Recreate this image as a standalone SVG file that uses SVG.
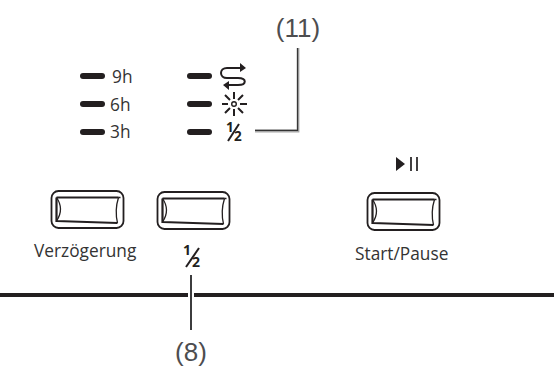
<svg xmlns="http://www.w3.org/2000/svg" width="554" height="367" viewBox="0 0 554 367">
<defs>
<style>
.t{font-family:"Open Sans","Noto Sans",sans-serif;font-size:17.300px;fill:#333}
.c{font-family:"Liberation Sans",Arial,sans-serif;font-size:26px;fill:#4d4d4f;text-anchor:middle}
.f{font-family:"Open Sans","Noto Sans",sans-serif;font-weight:700;fill:#231f20}
.led{stroke:#231f20;stroke-width:6;stroke-linecap:round;fill:none}
.o{fill:none;stroke:#231f20;stroke-width:1.800}
.b{fill:none;stroke:#231f20;stroke-width:2.200}
.i{fill:none;stroke:#231f20;stroke-width:1.300}
.s{fill:none;stroke:#231f20;stroke-width:2}
</style>
<g id="btn">
<rect class="o" x="0" y="0" width="72" height="37" rx="7"/>
<path class="b" d="M5 6.500H67M5 6.500V31M5 30L66 32"/>
<path class="i" d="M5 6.500Q13 18 5 30M67 6.500Q63 19 66 32M67 6.500L69 6.500"/>
</g>
</defs>
<g id="connectors">
<path d="M298 48V131H255" fill="none" stroke="#a8a8a8" stroke-width="2.800"/>
<path d="M297.600 48V130.400H255" fill="none" stroke="#333" stroke-width="1.100"/>
<line x1="191" y1="275" x2="191" y2="330" stroke="#3c3c3e" stroke-width="2"/>
</g>
<path id="baseline" d="M0 295H188M194 295H554" stroke="#231f20" stroke-width="4" fill="none"/>
<g id="led-9h"><line class="led" x1="83" y1="76" x2="102" y2="76"/><text class="t" x="112" y="83">9h</text></g>
<g id="led-6h"><line class="led" x1="83" y1="104" x2="102" y2="104"/><text class="t" x="110" y="111">6h</text></g>
<g id="led-3h"><line class="led" x1="83" y1="132" x2="102" y2="132"/><text class="t" x="110" y="138">3h</text></g>
<g id="led-repeat"><line class="led" x1="190" y1="76" x2="209" y2="76"/>
<path class="s" d="M241 68H227C219 68 219 78 227 78H238C247 78 247 85 238 85H228"/>
<path d="M240 63L246 68L240 72ZM229 81L223 85L229 90Z" fill="#231f20"/></g>
<g id="led-sun"><line class="led" x1="190" y1="104" x2="209" y2="104"/>
<circle cx="234" cy="104" r="2.300" fill="none" stroke="#231f20" stroke-width="1.400"/>
<path class="s" d="M222 104H228M240 104H247M234 92V99M234 109V116M225 95L230 100M238 108L243 113M243 95L238 100M230 108L225 113"/></g>
<g id="led-half"><line class="led" x1="190" y1="132" x2="209" y2="132"/><text class="f" x="226" y="132" font-size="13.500">1</text><path d="M228 141L239 124" class="s"/><text class="f" x="234" y="141" font-size="13.500">2</text></g>
<g id="button-delay"><use href="#btn" x="51.500" y="191"/><text class="t" x="34" y="257">Verzögerung</text></g>
<g id="button-half"><use href="#btn" x="157.500" y="192"/><text class="f" x="183" y="255" font-size="14">1</text><path d="M186 267L199 248" class="s"/><text class="f" x="192" y="267" font-size="14">2</text></g>
<g id="button-start"><use href="#btn" x="367.500" y="193"/><text class="t" x="355" y="260">Start/Pause</text></g>
<g id="play-pause"><path d="M396 157L405 164L396 171Z" fill="#231f20"/><path d="M411 157V171M417 157V171" stroke="#231f20" stroke-width="1.700" fill="none"/></g>
<text id="label-11" class="c" x="298" y="37">(11)</text>
<text id="label-8" class="c" x="191" y="361">(8)</text>
</svg>
